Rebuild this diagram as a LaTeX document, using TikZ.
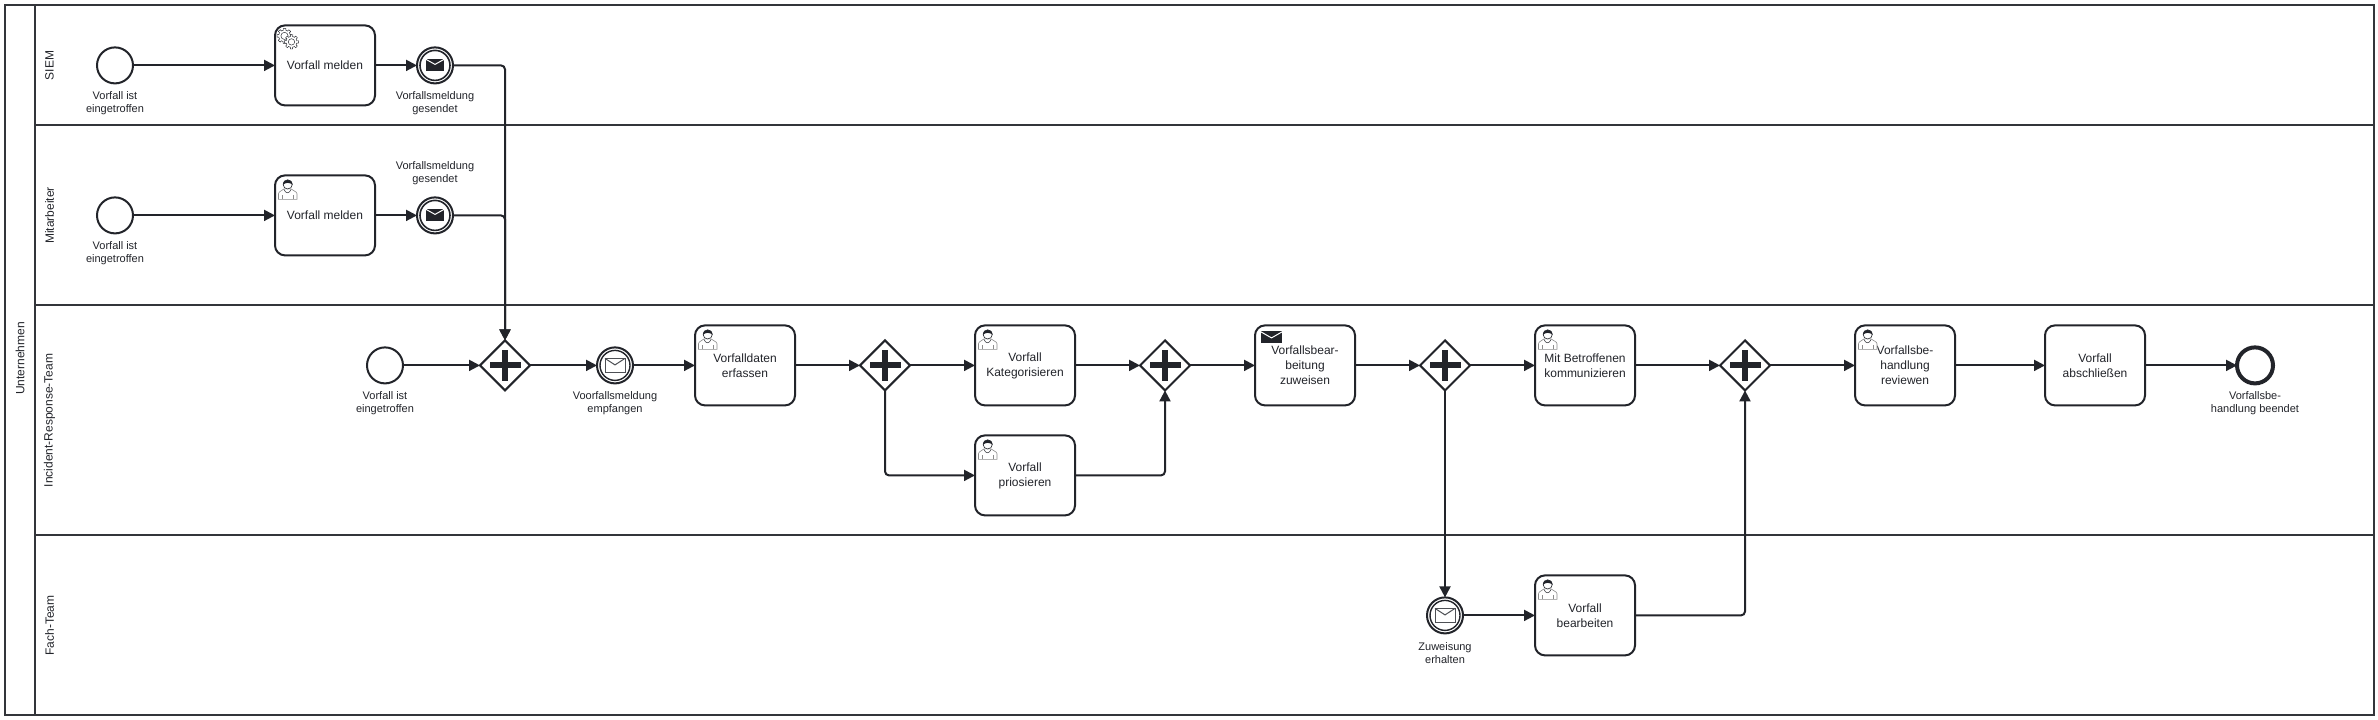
\documentclass[tikz,border=0pt]{standalone}
\usepackage{fontspec}
\setmainfont{Liberation Sans}
\usetikzlibrary{arrows.meta,shapes.geometric,calc}
\definecolor{ink}{HTML}{22242A}
\definecolor{lanecol}{HTML}{33353A}
\definecolor{iconline}{HTML}{8C8C8C}
\tikzset{
  x=1pt,y=-1pt,
  every node/.style={outer sep=0pt,inner sep=0pt,text=ink},
  tasktext/.style={font={\fontsize{12}{15}\selectfont},align=center},
  lbl/.style={font={\fontsize{11}{13}\selectfont},align=center},
  lanelbl/.style={font={\fontsize{12}{14}\selectfont},rotate=90},
  taskbox/.style={draw=ink,line width=2pt,rounded corners=10pt,minimum width=100pt,minimum height=80pt,tasktext,fill=white},
  startev/.style={draw=ink,line width=2pt,circle,minimum size=36pt,fill=white},
  endev/.style={draw=ink,line width=4pt,circle,minimum size=36pt,fill=white},
  gateway/.style={draw=ink,line width=2pt,diamond,minimum width=50pt,minimum height=50pt,fill=white,
    path picture={\fill[ink] ([shift={(-15.5,-3)}]path picture bounding box.center) rectangle ([shift={(15.5,3)}]path picture bounding box.center);
    \fill[ink] ([shift={(-3,-15.5)}]path picture bounding box.center) rectangle ([shift={(3,15.5)}]path picture bounding box.center);}},
  flow/.style={draw=ink,line width=2pt,rounded corners=4pt,-{Triangle[length=11pt,width=11pt]}},
  laneline/.style={draw=lanecol,line width=2pt},
  person/.pic={
    \draw[iconline,line width=.6pt,fill=white] (3.5,24) -- (3.5,18.5) .. controls (3.5,16) and (7,15.5) .. (9,13.5) -- (16,13.5) .. controls (18,15.5) and (22,16) .. (22,18.5) -- (22,24) -- cycle;
    \draw[iconline,line width=.6pt] (7,24) -- (7,20) (18.5,24) -- (18.5,20);
    \draw[ink,line width=.5pt] (9,14) .. controls (10.5,18.5) and (14.5,18.5) .. (16,14);
    \draw[ink,line width=.6pt,fill=white] (12.7,9) circle[radius=4.6];
    \fill[ink] (8,9.5) .. controls (7.5,2.8) and (17.9,2.8) .. (17.4,9.5) .. controls (15.5,6.8) and (10,6.8) .. cycle;
  },
  gears/.pic={
    \foreach \cx/\cy/\rr in {9.5/10.5/5.8,16.5/16.5/5.4}{
      \draw[ink,line width=.45pt,fill=white,shift={(\cx,\cy)}] plot[domain=0:358,samples=144] (\x:{\rr+1.7*(cos(8*\x)>0)}) -- cycle;
      \draw[ink,line width=.45pt,shift={(\cx,\cy)}] (0,0) circle[radius=\rr-2.2];
    }
  },
  sendicon/.pic={
    \fill[ink] (6,6) rectangle (27,18);
    \draw[white,line width=1pt] (6,6.5) -- (16.5,12.5) -- (27,6.5);
  },
  sendev/.pic={
    \draw[ink,line width=1.6pt] (0,0) circle[radius=15];
    \fill[ink] (-9,-6) rectangle (9,6);
    \draw[white,line width=1pt] (-9,-6) -- (0,-1) -- (9,-6);
  },
  catchev/.pic={
    \draw[ink,line width=1.4pt] (0,0) circle[radius=15];
    \draw[ink!80,line width=1pt] (-10,-7) rectangle (10,7);
    \draw[ink!80,line width=1pt] (-10,-7) -- (0,-.5) -- (10,-7);
  },
}
\begin{document}
\begin{tikzpicture}
\useasboundingbox (0,-0.4) rectangle (2378,719.6);
\fill[white] (0,-0.4) rectangle (2378,719.6);
% pool and lanes
\draw[laneline] (4.5,5) rectangle (2374,715);
\draw[laneline] (35,5) -- (35,715);
\draw[laneline] (35,125) -- (2374,125);
\draw[laneline] (35,305) -- (2374,305);
\draw[laneline] (35,535) -- (2374,535);
\node[lanelbl] (lpool) at (20,358) {Unternehmen};
\node[lanelbl] (lsiem) at (49.5,65) {SIEM};
\node[lanelbl] (lmit) at (49.5,215) {Mitarbeiter};
\node[lanelbl] (lirt) at (49.5,420) {Incident-Response-Team};
\node[lanelbl] (lfach) at (49.5,625) {Fach-Team};
% SIEM lane
\node[startev] (s1) at (115,65) {};
\node[taskbox] (a1) at (325,65) {Vorfall melden};
\node[startev] (e1) at (435,65) {};
\pic at (e1.center) {sendev};
\pic at (a1.north west) {gears};
\node[lbl] (ls1) at (115,102.7) {Vorfall ist\\eingetroffen};
\node[lbl] (le1) at (435,102.7) {Vorfallsmeldung\\gesendet};
% Mitarbeiter lane
\node[startev] (s2) at (115,215) {};
\node[taskbox] (a2) at (325,215) {Vorfall melden};
\node[startev] (e2) at (435,215) {};
\pic at (e2.center) {sendev};
\pic at (a2.north west) {person};
\node[lbl] (ls2) at (115,252.7) {Vorfall ist\\eingetroffen};
\node[lbl] (le2) at (435,172.7) {Vorfallsmeldung\\gesendet};
% Incident-Response-Team lane
\node[startev] (s3) at (385,365) {};
\node[lbl] (ls3) at (385,402.7) {Vorfall ist\\eingetroffen};
\node[gateway] (g1) at (505,365) {};
\node[startev] (c1) at (615,365) {};
\pic at (c1.center) {catchev};
\node[lbl] (lc1) at (615,402.7) {Voorfallsmeldung\\empfangen};
\node[taskbox] (t1) at (745,365) {Vorfalldaten\\erfassen};
\node[gateway] (g2) at (885,365) {};
\node[taskbox] (t2) at (1025,365) {Vorfall\\Kategorisieren};
\node[taskbox] (t3) at (1025,475) {Vorfall\\priosieren};
\node[gateway] (g3) at (1165,365) {};
\node[taskbox] (t4) at (1305,365) {Vorfallsbear-\\beitung\\zuweisen};
\node[gateway] (g4) at (1445,365) {};
\node[taskbox] (t5) at (1585,365) {Mit Betroffenen\\kommunizieren};
\node[gateway] (g5) at (1745,365) {};
\node[taskbox] (t6) at (1905,365) {Vorfallsbe-\\handlung\\reviewen};
\node[taskbox] (t7) at (2095,365) {Vorfall\\abschließen};
\node[endev] (e3) at (2255,365) {};
\node[lbl] (le3) at (2255,402.7) {Vorfallsbe-\\handlung beendet};
\pic at (t1.north west) {person};
\pic at (t2.north west) {person};
\pic at (t3.north west) {person};
\pic at (t4.north west) {sendicon};
\pic at (t5.north west) {person};
\pic at (t6.north west) {person};
% Fach-Team lane
\node[startev] (c2) at (1445,615) {};
\pic at (c2.center) {catchev};
\node[lbl] (lc2) at (1445,653) {Zuweisung\\erhalten};
\node[taskbox] (t8) at (1585,615) {Vorfall\\bearbeiten};
\pic at (t8.north west) {person};
% connectors
\draw[flow] (s1) -- (a1);
\draw[flow] (a1) -- (e1);
\draw[flow] (e1) -| (g1);
\draw[flow] (s2) -- (a2);
\draw[flow] (a2) -- (e2);
\draw[flow] (e2) -| (g1);
\draw[flow] (s3) -- (g1);
\draw[flow] (g1) -- (c1);
\draw[flow] (c1) -- (t1);
\draw[flow] (t1) -- (g2);
\draw[flow] (g2) -- (t2);
\draw[flow] (g2.south) |- (t3.west);
\draw[flow] (t2) -- (g3);
\draw[flow] (t3.east) -| (g3.south);
\draw[flow] (g3) -- (t4);
\draw[flow] (t4) -- (g4);
\draw[flow] (g4) -- (t5);
\draw[flow] (g4) -- (c2);
\draw[flow] (c2) -- (t8);
\draw[flow] (t5) -- (g5);
\draw[flow] (t8.east) -| (g5.south);
\draw[flow] (g5) -- (t6);
\draw[flow] (t6) -- (t7);
\draw[flow] (t7) -- (e3);
\end{tikzpicture}
\end{document}
